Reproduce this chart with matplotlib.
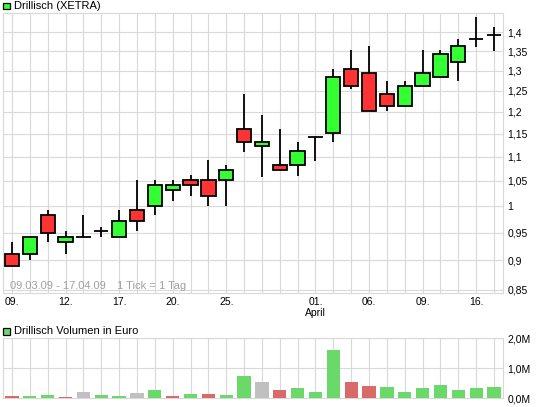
import matplotlib
matplotlib.use("Agg")
import matplotlib.pyplot as plt
import matplotlib.patches as patches
from matplotlib.ticker import FixedLocator, NullLocator

plt.rcParams['font.family'] = ['Liberation Sans', 'DejaVu Sans']

# trading days 09.03.09 - 17.04.09, one candle per day
opens  = [0.911, 0.911, 0.982, 0.932, 0.942, 0.952, 0.941, 0.992, 1.001, 1.031,
          1.052, 1.052, 1.051, 1.162, 1.123, 1.082, 1.082, 1.142, 1.151, 1.303,
          1.293, 1.242, 1.213, 1.261, 1.283, 1.322, 1.381, 1.393]
highs  = [0.933, 0.941, 0.992, 0.953, 0.983, 0.961, 0.992, 1.052, 1.052, 1.052,
          1.062, 1.093, 1.082, 1.242, 1.193, 1.162, 1.132, 1.142, 1.304, 1.353,
          1.363, 1.274, 1.274, 1.353, 1.353, 1.381, 1.443, 1.414]
lows   = [0.891, 0.901, 0.932, 0.911, 0.942, 0.941, 0.941, 0.952, 0.982, 1.010,
          1.020, 1.001, 1.001, 1.111, 1.057, 1.072, 1.060, 1.092, 1.131, 1.254,
          1.201, 1.201, 1.213, 1.261, 1.283, 1.274, 1.362, 1.351]
closes = [0.891, 0.941, 0.950, 0.941, 0.942, 0.952, 0.971, 0.971, 1.041, 1.041,
          1.041, 1.020, 1.072, 1.131, 1.131, 1.072, 1.112, 1.142, 1.283, 1.261,
          1.201, 1.213, 1.261, 1.293, 1.342, 1.363, 1.381, 1.393]

# volume in million euro, with its colour class
volumes = [0.07, 0.06, 0.10, 0.03, 0.20, 0.10, 0.07, 0.17, 0.27, 0.07,
           0.13, 0.13, 0.10, 0.74, 0.54, 0.27, 0.34, 0.20, 1.61, 0.54,
           0.40, 0.37, 0.20, 0.34, 0.44, 0.27, 0.34, 0.37]
vol_kind = ['d', 'u', 'u', 'd', 'n', 'u', 'u', 'n', 'u', 'd',
            'u', 'd', 'u', 'u', 'n', 'd', 'u', 'u', 'u', 'd',
            'd', 'u', 'u', 'u', 'u', 'u', 'u', 'u']

xlabel_pos = [0, 3, 6, 9, 12, 17, 20, 23, 26]
xlabel_txt = ['09.', '12.', '17.', '20.', '25.', '01.\nApril', '06.', '09.', '16.']

price_ticks = [0.85, 0.9, 0.95, 1.0, 1.05, 1.1, 1.15, 1.2, 1.25, 1.3, 1.35, 1.4]
vol_ticks = [0, 1, 2]

W, H = 545, 407
GRID = '#d9d9d9'
UP, DOWN = '#33ff33', '#ff3333'
VCOL = {'u': '#6ad96a', 'd': '#d96a6a', 'n': '#c0c0c0'}

fig = plt.figure(figsize=(W / 100, H / 100), dpi=100)
fig.patch.set_facecolor('white')


def px_axes(x0, y0, x1, y1):
    # axes from pixel box (origin top left)
    return fig.add_axes([x0 / W, 1 - y1 / H, (x1 - x0) / W, (y1 - y0) / H])


def px_text(x, y, s, **kw):
    return fig.text(x / W, 1 - y / H, s, va='center', ha='left', **kw)


def style(ax):
    for s in ax.spines.values():
        s.set_color(GRID)
        s.set_linewidth(0.8)
    ax.yaxis.tick_right()
    ax.tick_params(length=0, labelsize=7.5, pad=3)
    ax.set_xlim(-0.52, len(opens) - 0.48)
    ax.set_xticks(range(len(opens)))
    ax.grid(True, color=GRID, linewidth=0.8)
    ax.set_axisbelow(True)


# price panel
ax = px_axes(2.7, 13.3, 503.3, 293)
ax.set_yscale('log')
style(ax)
ax.set_ylim(0.845, 1.4525)
ax.yaxis.set_major_locator(FixedLocator(price_ticks))
ax.yaxis.set_minor_locator(NullLocator())
ax.set_yticklabels([('%g' % t).replace('.', ',') for t in price_ticks])
labels = [''] * len(opens)
for p, t in zip(xlabel_pos, xlabel_txt):
    labels[p] = t
ax.set_xticklabels(labels, fontsize=7.5, linespacing=1.1)

xs = list(range(len(opens)))
ax.vlines(xs, lows, highs, color='black', linewidth=1.3, zorder=2)
for x, o, c in zip(xs, opens, closes):
    if abs(o - c) < 1e-6:
        ax.hlines(o, x - 0.4, x + 0.4, color='black', linewidth=1.3, zorder=3)
    else:
        ax.bar(x, abs(c - o), bottom=min(o, c), width=0.8,
               color=UP if c > o else DOWN, edgecolor='black',
               linewidth=1.3, zorder=3)

px_text(10, 285.7, '09.03.09 - 17.04.09', fontsize=8, color='#a0a0a0')
px_text(116.7, 285.7, '1 Tick = 1 Tag', fontsize=8, color='#a0a0a0')

# volume panel
vx = px_axes(2.7, 338.3, 503.3, 398)
style(vx)
vx.set_ylim(0, 2.0)
vx.set_yticks(vol_ticks)
vx.set_yticklabels([('%.1fM' % v).replace('.', ',') for v in vol_ticks])
vx.set_xticklabels([])
vx.bar(xs, volumes, width=0.74, color=[VCOL[k] for k in vol_kind], zorder=3)


# legend boxes and titles
def legend(y, txt, col):
    fig.add_artist(patches.Rectangle((3 / W, 1 - (y + 3.3) / H), 6.5 / W, 6.5 / H,
                                     transform=fig.transFigure, facecolor=col,
                                     edgecolor='black', linewidth=0.9))
    px_text(13.5, y, txt, fontsize=8)


legend(6, 'Drillisch (XETRA)', '#33ff33')
legend(331.5, 'Drillisch Volumen in Euro', '#6ad96a')

fig.savefig('out.png', dpi=100, facecolor='white')
